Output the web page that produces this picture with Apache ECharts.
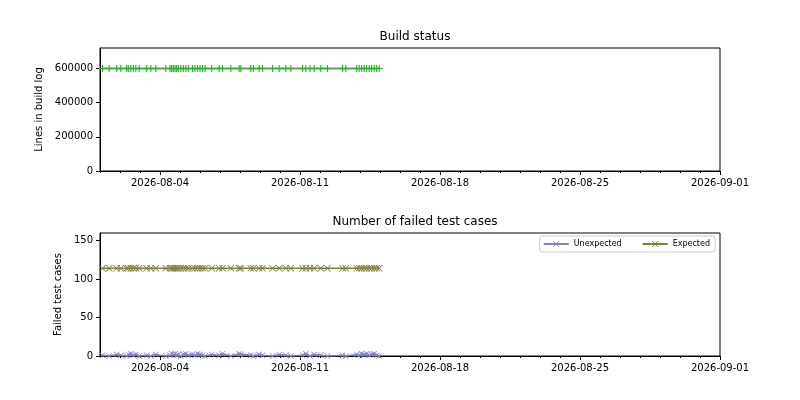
<!DOCTYPE html>
<html>
<head>
<meta charset="utf-8">
<script src="https://cdn.jsdelivr.net/npm/echarts@6/dist/echarts.min.js"></script>
<style>html,body{margin:0;padding:0;background:#fff}#c{width:800px;height:400px}</style>
</head>
<body>
<div id="c"></div>
<script>
const timestamps = [
  '2026-08-01 03:00','2026-08-01 11:00','2026-08-01 20:00','2026-08-02 01:00',
  '2026-08-02 08:00','2026-08-02 10:00','2026-08-02 13:00','2026-08-02 16:00','2026-08-02 19:00','2026-08-02 23:00',
  '2026-08-03 08:00','2026-08-03 13:00','2026-08-03 19:00','2026-08-04 07:00',
  '2026-08-04 12:00','2026-08-04 14:00','2026-08-04 16:00','2026-08-04 18:00','2026-08-04 20:00','2026-08-04 22:00',
  '2026-08-05 01:00','2026-08-05 04:00','2026-08-05 07:00','2026-08-05 10:00',
  '2026-08-05 15:00','2026-08-05 18:00','2026-08-05 21:00','2026-08-06 00:00','2026-08-06 03:00','2026-08-06 06:00',
  '2026-08-06 14:00','2026-08-06 23:00','2026-08-07 03:00','2026-08-07 13:00',
  '2026-08-07 23:00','2026-08-08 01:00','2026-08-08 13:00','2026-08-08 16:00','2026-08-08 23:00','2026-08-09 03:00',
  '2026-08-09 15:00','2026-08-09 23:00','2026-08-10 07:00','2026-08-10 13:00',
  '2026-08-11 03:00','2026-08-11 07:00','2026-08-11 12:00','2026-08-11 17:00','2026-08-12 01:00','2026-08-12 09:00',
  '2026-08-13 03:00','2026-08-13 07:00',
  '2026-08-13 20:00','2026-08-13 23:00','2026-08-14 02:00','2026-08-14 05:00','2026-08-14 08:00','2026-08-14 11:00',
  '2026-08-14 14:00','2026-08-14 17:00','2026-08-14 20:00','2026-08-14 23:00'
];
const buildLogLines = [
  600000,600000,600000,600000,
  600000,600000,600000,600000,600000,600000,
  600000,600000,600000,600000,
  600000,600000,600000,600000,600000,600000,
  600000,600000,600000,600000,
  600000,600000,600000,600000,600000,600000,
  600000,600000,600000,600000,
  600000,600000,600000,600000,600000,600000,
  600000,600000,600000,600000,
  600000,600000,600000,600000,600000,600000,
  600000,600000,
  600000,600000,600000,600000,600000,600000,
  600000,600000,600000,600000
];
const unexpectedFailures = [
  1,0,2,1,
  0,2,3,1,2,0,
  1,0,2,0,
  1,3,2,3,1,2,
  0,2,3,1,
  2,1,3,2,1,0,
  2,1,3,0,
  3,2,1,0,2,1,
  0,2,1,0,
  1,3,0,2,1,0,
  1,0,
  2,1,3,2,3,1,
  2,3,1,0
];
const expectedFailures = [
  114,114,114,114,
  114,114,114,114,114,114,
  114,114,114,114,
  114,114,114,114,114,114,
  114,114,114,114,
  114,114,114,114,114,114,
  114,114,114,114,
  114,114,114,114,114,114,
  114,114,114,114,
  114,114,114,114,114,114,
  114,114,
  114,114,114,114,114,114,
  114,114,114,114
];
const xMajorTicks = ['2026-08-04','2026-08-11','2026-08-18','2026-08-25','2026-09-01'];
const xStart = '2026-08-01';
const xEnd = '2026-09-01';
const buildYTicks = [0, 200000, 400000, 600000];
const failYTicks = [0, 50, 100, 150];

function ts(s) {
  const [d, t] = s.split(' ');
  const [Y, M, D] = d.split('-').map(Number);
  let h = 0, m = 0;
  if (t) { [h, m] = t.split(':').map(Number); }
  return new Date(Y, M - 1, D, h, m).getTime();
}
function fmt(v) {
  const d = new Date(v);
  const p = n => String(n).padStart(2, '0');
  return d.getFullYear() + '-' + p(d.getMonth() + 1) + '-' + p(d.getDate());
}
const xMin = ts(xStart), xMax = ts(xEnd);
const majors = xMajorTicks.map(ts);
const minors = [];
for (let v = xMin; v <= xMax + 1; v = ts(fmt(v + 36 * 3600 * 1000))) { minors.push(v); }

const FONT = 'DejaVu Sans';
const plusPath = 'path://M-0.8,-5H0.8V-0.8H5V0.8H0.8V5H-0.8V0.8H-5V-0.8H-0.8Z';
const xPath = 'path://M-5,-4.2L-4.2,-5L0,-0.8L4.2,-5L5,-4.2L0.8,0L5,4.2L4.2,5L0,0.8L-4.2,5L-5,4.2L-0.8,0Z';

function majorX(gi) {
  return {
    type: 'value', gridIndex: gi, min: xMin, max: xMax, scale: true,
    axisLine: { show: true, onZero: false, lineStyle: { color: '#000', width: 1 } },
    axisTick: { show: true, length: 4, lineStyle: { color: '#000' }, customValues: majors },
    axisLabel: { show: true, customValues: majors, formatter: fmt, color: '#000', fontFamily: FONT, fontSize: 10, margin: 7 },
    splitLine: { show: false }
  };
}
function minorX(gi) {
  return {
    type: 'value', gridIndex: gi, min: xMin, max: xMax, position: 'bottom', scale: true,
    axisLine: { show: false, onZero: false },
    axisTick: { show: true, length: 2, lineStyle: { color: '#000' }, customValues: minors },
    axisLabel: { show: false },
    splitLine: { show: false }
  };
}
function yAx(gi, max, ticks, name, gap) {
  return {
    type: 'value', gridIndex: gi, min: 0, max: max,
    name: name, nameLocation: 'middle', nameGap: gap,
    nameTextStyle: { color: '#000', fontFamily: FONT, fontSize: 10 },
    axisLine: { show: true, lineStyle: { color: '#000', width: 1 } },
    axisTick: { show: true, length: 4, lineStyle: { color: '#000' }, customValues: ticks },
    axisLabel: { customValues: ticks, formatter: v => String(v), color: '#000', fontFamily: FONT, fontSize: 10, margin: 7 },
    splitLine: { show: false }
  };
}
function pairs(vals) { return timestamps.map((t, i) => [ts(t), vals[i]]); }

const chart = echarts.init(document.getElementById('c'), null, { renderer: 'canvas' });
chart.setOption({
  animation: false,
  backgroundColor: '#fff',
  title: [
    { text: 'Build status', left: 410, top: 26, textAlign: 'center',
      textStyle: { fontFamily: FONT, fontSize: 12, fontWeight: 'normal', color: '#000' } },
    { text: 'Number of failed test cases', left: 410, top: 211, textAlign: 'center',
      textStyle: { fontFamily: FONT, fontSize: 12, fontWeight: 'normal', color: '#000' } }
  ],
  grid: [
    { left: 100, top: 48, width: 620, height: 123, show: true, borderColor: '#000', borderWidth: 1, backgroundColor: 'transparent' },
    { left: 100, top: 233, width: 620, height: 123, show: true, borderColor: '#000', borderWidth: 1, backgroundColor: 'transparent' }
  ],
  xAxis: [majorX(0), majorX(1), minorX(0), minorX(1)],
  yAxis: [
    yAx(0, 720000, buildYTicks, 'Lines in build log', 56),
    yAx(1, 160, failYTicks, 'Failed test cases', 36)
  ],
  legend: {
    data: ['Unexpected', 'Expected'],
    right: 85, top: 236,
    padding: [4, 5, 4, 3],
    itemGap: 20, itemWidth: 25, itemHeight: 8,
    borderColor: '#cccccc', borderWidth: 1, borderRadius: 3,
    textStyle: { fontFamily: FONT, fontSize: 8, color: '#000' }
  },
  series: [
    {
      name: 'Lines in build log', type: 'line', xAxisIndex: 0, yAxisIndex: 0,
      data: pairs(buildLogLines),
      symbol: plusPath, symbolSize: 7, showAllSymbol: true,
      lineStyle: { color: '#888888', width: 2 },
      itemStyle: { color: '#22b522' }
    },
    {
      name: 'Unexpected', type: 'line', xAxisIndex: 1, yAxisIndex: 1,
      data: pairs(unexpectedFailures),
      symbol: xPath, symbolSize: 6, showAllSymbol: true,
      lineStyle: { color: '#8080c8', width: 1.5 },
      itemStyle: { color: '#8080c8' }
    },
    {
      name: 'Expected', type: 'line', xAxisIndex: 1, yAxisIndex: 1,
      data: pairs(expectedFailures),
      symbol: xPath, symbolSize: 7, showAllSymbol: true,
      lineStyle: { color: '#7f7f3f', width: 1.5 },
      itemStyle: { color: '#7f7f3f' }
    }
  ]
});
</script>
</body>
</html>
